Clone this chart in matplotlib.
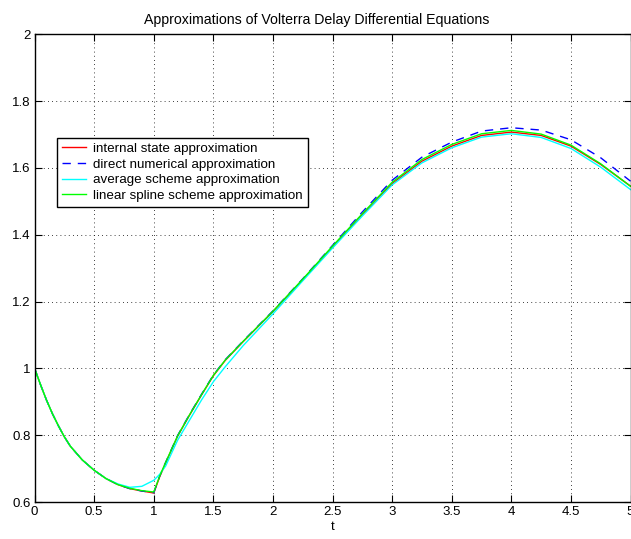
import numpy as np
import matplotlib
matplotlib.use("Agg")
import matplotlib.pyplot as plt
from matplotlib.ticker import FormatStrFormatter, MultipleLocator

plt.rcParams['font.family'] = ['Liberation Sans', 'DejaVu Sans']

# sample times
t = [0, 0.05, 0.1, 0.15, 0.2, 0.25, 0.3, 0.4, 0.5, 0.6, 0.7, 0.8, 0.9, 1.0,
     1.05, 1.1, 1.2, 1.3, 1.4, 1.5, 1.6, 1.75, 2.0, 2.25, 2.5, 2.75,
     3.0, 3.25, 3.5, 3.75, 4.0, 4.25, 4.5, 4.75, 5.0]

internal = [1.0, 0.951, 0.905, 0.864, 0.828, 0.795, 0.767, 0.726, 0.695, 0.670, 0.652, 0.640, 0.633, 0.627,
            0.676, 0.717, 0.797, 0.860, 0.920, 0.978, 1.024, 1.080, 1.170, 1.265, 1.363, 1.460,
            1.553, 1.620, 1.665, 1.697, 1.707, 1.697, 1.665, 1.610, 1.545]

direct = [1.0, 0.951, 0.905, 0.864, 0.828, 0.795, 0.767, 0.726, 0.695, 0.670, 0.652, 0.640, 0.633, 0.628,
          0.678, 0.719, 0.799, 0.862, 0.922, 0.980, 1.026, 1.082, 1.172, 1.268, 1.368, 1.468,
          1.563, 1.632, 1.677, 1.710, 1.720, 1.713, 1.684, 1.630, 1.560]

average = [1.0, 0.951, 0.905, 0.864, 0.828, 0.795, 0.767, 0.726, 0.695, 0.670, 0.654, 0.644, 0.647, 0.665,
           0.683, 0.708, 0.785, 0.845, 0.905, 0.960, 1.005, 1.068, 1.163, 1.262, 1.360, 1.456,
           1.549, 1.615, 1.660, 1.692, 1.702, 1.691, 1.658, 1.602, 1.535]

spline = [1.0, 0.951, 0.905, 0.864, 0.828, 0.795, 0.767, 0.726, 0.695, 0.670, 0.652, 0.641, 0.634, 0.630,
          0.678, 0.719, 0.798, 0.861, 0.921, 0.979, 1.025, 1.081, 1.171, 1.267, 1.366, 1.463,
          1.557, 1.625, 1.670, 1.702, 1.712, 1.701, 1.668, 1.612, 1.545]

labels = ['internal state approximation', 'direct numerical approximation',
          'average scheme approximation', 'linear spline scheme approximation']

fig = plt.figure(figsize=(6.31, 5.39), dpi=100)
ax = fig.add_axes([0.0548, 0.0686, 0.9445, 0.868])

ax.plot(t, internal, color='#ff0000', lw=1.0, label=labels[0])
ax.plot(t, direct, color='#0000ff', lw=1.0, ls=(0, (6, 5)), label=labels[1])
ax.plot(t, average, color='#00ffff', lw=1.0, label=labels[2])
ax.plot(t, spline, color='#00ff00', lw=1.0, label=labels[3])

ax.set_xlim(0, 5)
ax.set_ylim(0.6, 2)
ax.xaxis.set_major_locator(MultipleLocator(0.5))
ax.yaxis.set_major_locator(MultipleLocator(0.2))
ax.xaxis.set_major_formatter(FormatStrFormatter('%g'))
ax.yaxis.set_major_formatter(FormatStrFormatter('%g'))
ax.tick_params(direction='in', top=True, right=True, length=5, width=0.8,
               labelsize=9.5, pad=3)
ax.grid(True, color='black', ls=(0, (1, 4)), lw=0.6)
for s in ax.spines.values():
    s.set_linewidth(1.0)

ax.set_xlabel('t', fontsize=9.5, labelpad=2)
ax.set_title('Approximations of Volterra Delay Differential Equations', fontsize=10.2,
             pad=7, x=0.473)

leg = ax.legend(loc='upper left', bbox_to_anchor=(0.038, 0.778), fontsize=9.6,
                frameon=True, fancybox=False, framealpha=1, edgecolor='black',
                handlelength=1.8, borderpad=0.35, labelspacing=0.25, handletextpad=0.55,
                borderaxespad=0)
leg.get_frame().set_linewidth(1.0)

plt.savefig('out.png', dpi=100)
